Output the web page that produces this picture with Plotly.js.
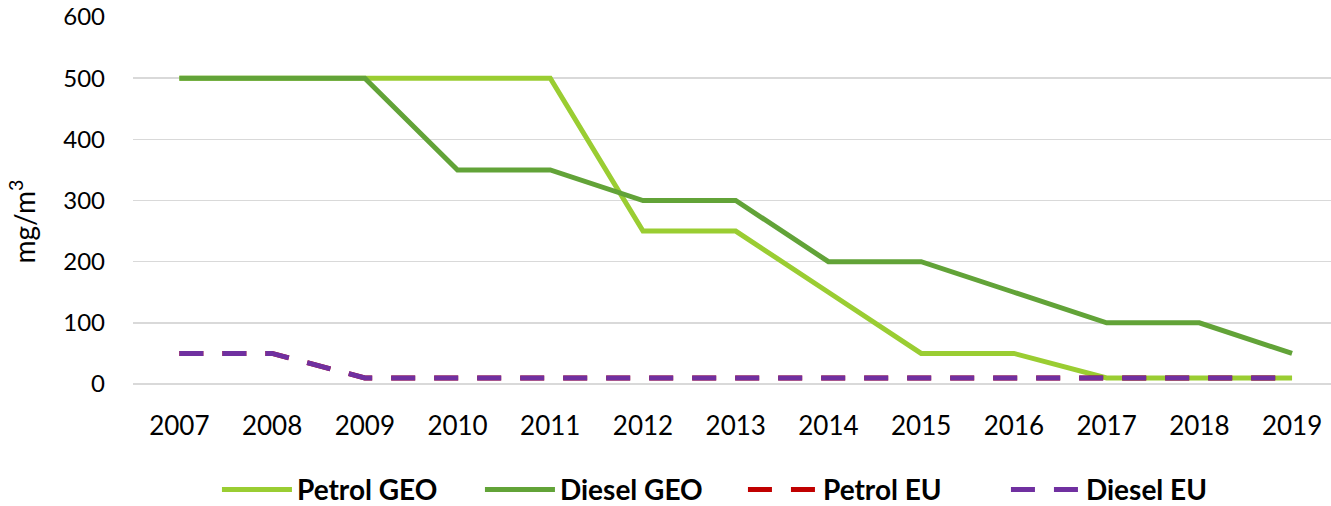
<!DOCTYPE html>
<html>
<head>
<meta charset="utf-8">
<script src="https://cdn.plot.ly/plotly-3.0.1.min.js"></script>
<style>html,body{margin:0;padding:0;background:#fff;}#chart{width:1331px;height:506px;}</style>
</head>
<body>
<div id="chart"></div>
<script>
const years = ['2007','2008','2009','2010','2011','2012','2013','2014','2015','2016','2017','2018','2019'];
const petrolGEO = [500,500,500,500,500,250,250,150,50,50,10,10,10];
const dieselGEO = [500,500,500,350,350,300,300,200,200,150,100,100,50];
const petrolEU  = [50,50,10,10,10,10,10,10,10,10,10,10,10];
const dieselEU  = [50,50,10,10,10,10,10,10,10,10,10,10,10];
const yTitle = 'mg/m<sup>3</sup>';

const traces = [
  {x: years, y: petrolGEO, name: 'Petrol GEO', type: 'scatter', mode: 'lines',
   line: {color: '#9ACD32', width: 5}},
  {x: years, y: dieselGEO, name: 'Diesel GEO', type: 'scatter', mode: 'lines',
   line: {color: '#62A338', width: 5}},
  {x: years, y: petrolEU, name: 'Petrol EU', type: 'scatter', mode: 'lines',
   line: {color: '#C00000', width: 5, dash: '24px,19px'}},
  {x: years, y: dieselEU, name: 'Diesel EU', type: 'scatter', mode: 'lines',
   line: {color: '#7030A0', width: 5, dash: '24px,19px'}}
];

const layout = {
  width: 1331, height: 506,
  margin: {l: 133, r: 0, t: 17, b: 122, pad: 0},
  paper_bgcolor: '#fff', plot_bgcolor: '#fff',
  font: {family: 'Lato, sans-serif', color: '#000'},
  showlegend: true,
  hovermode: false,
  xaxis: {
    type: 'category',
    range: [-0.5, 12.42],
    showgrid: false, zeroline: false, showline: false,
    ticks: '', ticklabelstandoff: 24,
    tickfont: {size: 26, family: 'Lato, sans-serif', color: '#000'}
  },
  yaxis: {
    range: [0, 600], dtick: 100, tick0: 0,
    showgrid: true, gridcolor: '#D9D9D9', gridwidth: 1.5,
    zeroline: true, zerolinecolor: '#D9D9D9', zerolinewidth: 1.5,
    showline: false, ticks: '', ticklabelstandoff: 27,
    tickfont: {size: 24, family: 'Lato, sans-serif', color: '#000'}
  },
  annotations: [{
    text: yTitle, xref: 'paper', yref: 'paper',
    x: -0.092, y: 0.442, xanchor: 'center', yanchor: 'middle',
    textangle: -90, showarrow: false,
    font: {size: 28, family: 'Lato, sans-serif', color: '#000'}
  }],
  legend: {
    orientation: 'h', xref: 'container', yref: 'container',
    x: 0.163, xanchor: 'left', y: 0.032, yanchor: 'middle',
    itemwidth: 70, traceorder: 'normal',
    entrywidth: 178, entrywidthmode: 'pixels',
    font: {size: 28, family: 'Lato, sans-serif', color: '#000', weight: 'bold'}
  }
};

Plotly.newPlot('chart', traces, layout, {displayModeBar: false, staticPlot: true});
</script>
</body>
</html>
